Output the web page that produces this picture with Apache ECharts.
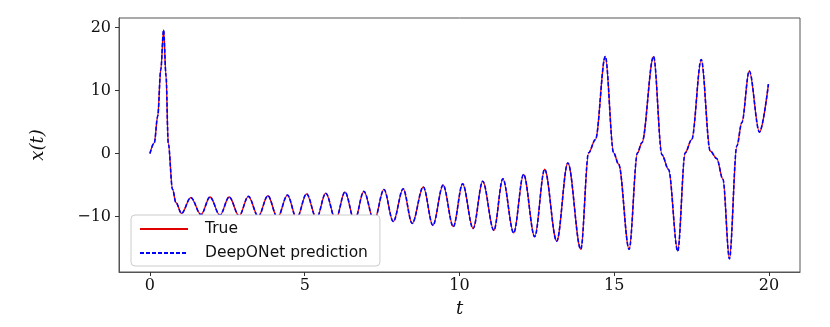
<!DOCTYPE html>
<html>
<head>
<meta charset="utf-8">
<script src="https://cdn.jsdelivr.net/npm/echarts@6/dist/echarts.min.js"></script>
<style>
  html, body { margin: 0; padding: 0; background: #fff; }
  #chart { width: 830px; height: 327px; }
</style>
</head>
<body>
<div id="chart"></div>
<script>
// time samples (extrema and a few shape points)
const tVals = [
  0, 0.14, 0.25, 0.35, 0.44, 0.52, 0.59, 0.73, 0.84, 1.02,
  1.32, 1.65, 1.94, 2.26, 2.56, 2.88, 3.18, 3.5, 3.81, 4.12,
  4.44, 4.74, 5.06, 5.38, 5.68, 6.0, 6.3, 6.61, 6.91, 7.24,
  7.56, 7.86, 8.18, 8.47, 8.83, 9.14, 9.47, 9.8, 10.1, 10.44,
  10.75, 11.11, 11.4, 11.75, 12.07, 12.43, 12.75, 13.14, 13.5, 13.92,
  14.17, 14.39, 14.71, 14.98, 15.14, 15.48, 15.75, 15.89, 16.27, 16.54,
  16.75, 17.05, 17.29, 17.5, 17.81, 18.1, 18.31, 18.51, 18.72, 18.96,
  19.12, 19.36, 19.69, 19.98
];
const xTrue = [
  0, 1.7, 5.9, 13.3, 19.6, 12.3, 1.7, -5.7, -7.8, -9.5,
  -7.0, -9.7, -6.9, -9.8, -6.9, -9.9, -6.8, -10.0, -6.7, -10.2,
  -6.6, -10.3, -6.4, -10.3, -6.3, -10.5, -6.1, -10.7, -6.0, -10.7,
  -5.7, -10.8, -5.6, -11.1, -5.3, -11.4, -5.0, -11.6, -4.8, -11.9,
  -4.4, -12.2, -4.0, -12.6, -3.3, -13.2, -2.5, -13.9, -1.5, -15.2,
  0.1, 2.2, 15.4, 0.1, -1.7, -15.2, 0.1, 1.7, 15.4, -0.2,
  -2.5, -15.5, 0.1, 2.2, 14.9, 0.4, -0.8, -4.1, -16.7, 1.2,
  4.9, 13.1, 3.4, 11.0
];
const xPred = xTrue.slice();
const xTicks = [0, 5, 10, 15, 20];
const yTicks = [-10, 0, 10, 20];

const pairs = (ys) => tVals.map((t, i) => [t, ys[i]]);
const serif = '"DejaVu Serif", "Liberation Serif", serif';

const chart = echarts.init(document.getElementById('chart'));
chart.setOption({
  animation: false,
  backgroundColor: '#fff',
  grid: {
    left: 119, right: 30, top: 18, bottom: 55,
    show: true, borderColor: '#555', borderWidth: 1
  },
  legend: {
    orient: 'vertical',
    left: 131, top: 215,
    padding: [6, 12, 5, 8],
    itemWidth: 48, itemHeight: 12, itemGap: 8,
    backgroundColor: '#fff',
    borderColor: '#ccc', borderWidth: 1, borderRadius: 4,
    itemStyle: { opacity: 0 },
    textStyle: { fontFamily: '"DejaVu Sans", sans-serif', fontSize: 15.5, color: '#111', padding: [0, 0, 0, 12] },
    data: ['True', 'DeepONet prediction']
  },
  xAxis: {
    type: 'value', min: -1, max: 21,
    name: 't', nameLocation: 'middle', nameGap: 28,
    nameTextStyle: { fontFamily: serif, fontStyle: 'italic', fontSize: 18, color: '#111' },
    axisLine: { show: true, onZero: false, lineStyle: { color: '#555' } },
    splitLine: { show: false },
    axisTick: { show: true, length: 4, customValues: xTicks, lineStyle: { color: '#333' } },
    axisLabel: { customValues: xTicks, fontFamily: serif, fontSize: 16, color: '#111', margin: 6 }
  },
  yAxis: {
    type: 'value', min: -18.8, max: 21.5,
    name: 'x(t)', nameLocation: 'middle', nameGap: 72, nameRotate: 90,
    nameTextStyle: { fontFamily: serif, fontStyle: 'italic', fontSize: 18, color: '#111' },
    axisLine: { show: true, onZero: false, lineStyle: { color: '#555' } },
    splitLine: { show: false },
    axisTick: { show: true, length: 4, customValues: yTicks, lineStyle: { color: '#333' } },
    axisLabel: {
      customValues: yTicks, fontFamily: serif, fontSize: 16, color: '#111', margin: 8,
      formatter: (v) => (v < 0 ? '\u2212' + Math.abs(v) : String(v))
    }
  },
  series: [
    {
      name: 'True', type: 'line', data: pairs(xTrue),
      symbol: 'none', smooth: 0.35, smoothMonotone: 'x',
      lineStyle: { color: '#e00000', width: 1.3 },
      itemStyle: { color: '#e00000' }
    },
    {
      name: 'DeepONet prediction', type: 'line', data: pairs(xPred),
      symbol: 'none', smooth: 0.35, smoothMonotone: 'x',
      lineStyle: { color: '#0000ff', width: 1.6, type: [4, 2] },
      itemStyle: { color: '#0000ff' }
    }
  ]
});
</script>
</body>
</html>
